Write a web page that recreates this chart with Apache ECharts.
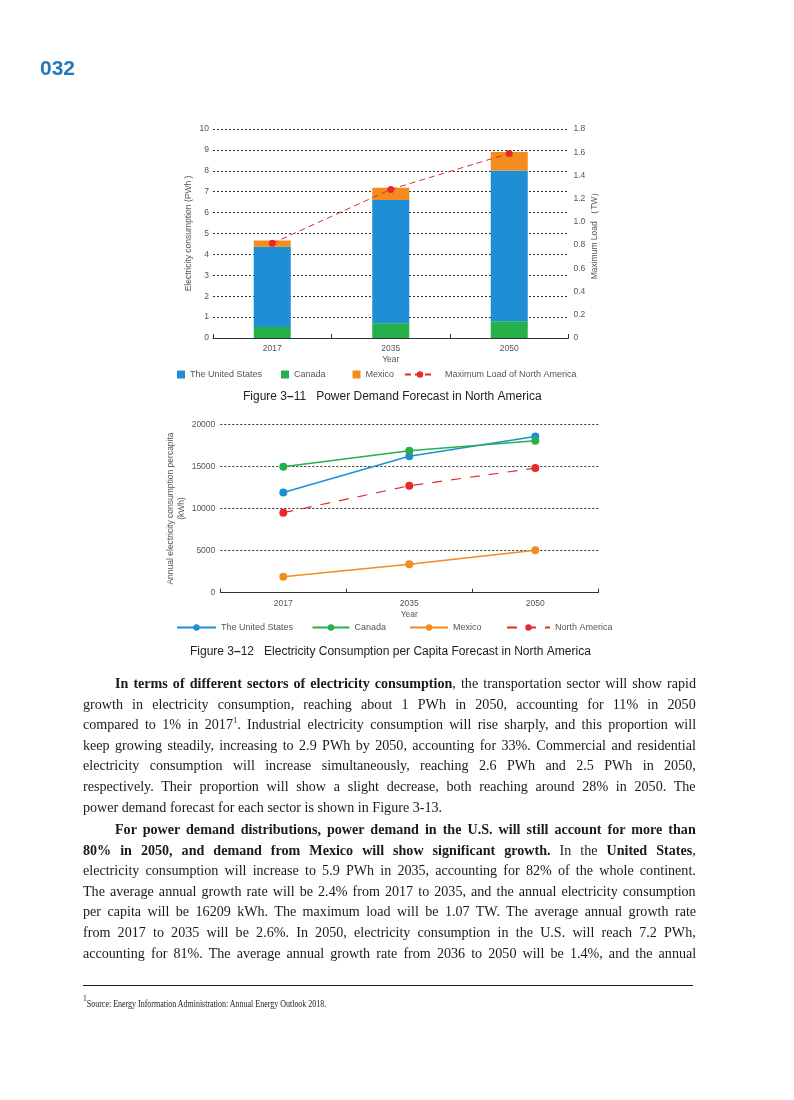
<!DOCTYPE html>
<html><head><meta charset="utf-8">
<script src="https://cdn.jsdelivr.net/npm/echarts@6/dist/echarts.min.js"></script>
<style>
html,body{margin:0;padding:0;background:#fff;}
#page{position:relative;width:794px;height:1100px;overflow:hidden;}
#chart{position:absolute;left:0;top:0;width:794px;height:1100px;}
.ln{position:absolute;display:inline-block;white-space:nowrap;font-family:'Liberation Serif',serif;font-size:15px;line-height:20px;color:#1a1a1a;transform-origin:0 0;}
.ln b{font-weight:bold;}
.ln sup{font-size:9px;line-height:0;vertical-align:6px;}
#pnum{position:absolute;left:40px;top:56px;font-family:'Liberation Sans',Arial,sans-serif;font-weight:bold;font-size:21px;color:#2478be;}
#rule{position:absolute;left:83px;top:985px;width:610px;height:0;border-top:1.3px solid #222;}
</style></head>
<body><div id="page">
<div id="chart"></div>
<div id="pnum">032</div>
<div id="rule"></div>
</div>
<script>
// ---------- data ----------
const years = ['2017', '2035', '2050'];
const usDemand = [3.84, 5.9, 7.22];       // PWh
const canadaDemand = [0.53, 0.70, 0.80];  // PWh
const mexicoDemand = [0.29, 0.59, 0.88];  // PWh
const maxLoadNA = [0.815, 1.28, 1.59];    // TW

const usPerCapita = [11900, 16209, 18550];
const canadaPerCapita = [14950, 16850, 18050];
const mexicoPerCapita = [1900, 3380, 5050];
const naPerCapita = [9500, 12700, 14800];

const leftTicks1 = [0, 10, 1];
const rightTicks1 = [0, 1.8, 0.2];
const ticks2 = [0, 20000, 5000];

const para1 = [
  '<b>In terms of different sectors of electricity consumption</b>, the transportation sector will show rapid',
  'growth in electricity consumption, reaching about 1 PWh in 2050, accounting for 11% in 2050',
  'compared to 1% in 2017<sup>1</sup>. Industrial electricity consumption will rise sharply, and this proportion will',
  'keep growing steadily, increasing to 2.9 PWh by 2050, accounting for 33%. Commercial and residential',
  'electricity consumption will increase simultaneously, reaching 2.6 PWh and 2.5 PWh in 2050,',
  'respectively. Their proportion will show a slight decrease, both reaching around 28% in 2050. The',
  'power demand forecast for each sector is shown in Figure 3-13.'
];
const para2 = [
  '<b>For power demand distributions, power demand in the U.S. will still account for more than</b>',
  '<b>80% in 2050, and demand from Mexico will show significant growth.</b> In the <b>United States</b>,',
  'electricity consumption will increase to 5.9 PWh in 2035, accounting for 82% of the whole continent.',
  'The average annual growth rate will be 2.4% from 2017 to 2035, and the annual electricity consumption',
  'per capita will be 16209 kWh. The maximum load will be 1.07 TW. The average annual growth rate',
  'from 2017 to 2035 will be 2.6%. In 2050, electricity consumption in the U.S. will reach 7.2 PWh,',
  'accounting for 81%. The average annual growth rate from 2036 to 2050 will be 1.4%, and the annual'
];
const footnote = '<sup>1</sup>Source: Energy Information Administration: Annual Energy Outlook 2018.';

// ---------- body text ----------
const page = document.getElementById('page');
const SCALE = 0.94;
function addLine(html, left, top, width, justify) {
  const d = document.createElement('div');
  d.className = 'ln';
  d.innerHTML = html;
  d.style.left = left + 'px';
  d.style.top = top + 'px';
  page.appendChild(d);
  const natural = d.offsetWidth;
  const target = width / SCALE;
  if (justify) {
    const spaces = (d.textContent.match(/ /g) || []).length;
    const extra = target - natural;
    if (extra >= 0) d.style.wordSpacing = (extra / spaces) + 'px';
    else d.style.letterSpacing = (extra / d.textContent.length) + 'px';
  }
  d.style.transform = 'scaleX(' + SCALE + ')';
}
const L = 83, R = 696, IND = 32;
const p1Top = 673, p2Top = 819, lh = 20.6;
para1.forEach((t, i) => {
  const left = i === 0 ? L + IND : L;
  addLine(t, left, p1Top + i * lh, R - left, i !== para1.length - 1);
});
para2.forEach((t, i) => {
  const left = i === 0 ? L + IND : L;
  addLine(t, left, p2Top + i * lh, R - left, true);
});
(function(){
  const d = document.createElement('div');
  d.className = 'ln';
  d.innerHTML = footnote;
  d.style.left = L + 'px'; d.style.top = '994px';
  d.style.fontSize = '9.5px';
  d.style.transform = 'scaleX(0.84)';
  page.appendChild(d);
})();

// ---------- charts ----------
const FONT = 'Liberation Sans';
const GRAY = '#555';
const BLUE = '#1e8fd5', GREEN = '#25b04a', ORANGE = '#f48b1e', RED = '#e62a2a';
const chart = echarts.init(document.getElementById('chart'), null, {renderer: 'canvas'});

const splitStyle = {show: true, lineStyle: {type: [2, 2], color: '#333', width: 1}};
const axisLab = {color: GRAY, fontSize: 8.5, fontFamily: FONT};
const xAxisCommon = {
  type: 'category', data: years,
  axisLine: {show: true, lineStyle: {color: '#333', width: 1}},
  axisTick: {show: true, inside: true, length: 4, lineStyle: {color: '#333'}},
  axisLabel: Object.assign({margin: 6}, axisLab),
  name: 'Year', nameLocation: 'middle', nameGap: 17,
  nameTextStyle: {color: GRAY, fontSize: 8.5, fontFamily: FONT}
};

function legendItem(name, left, top, w, extra) {
  return Object.assign({
    data: [name], left: left, top: top, padding: 0,
    itemWidth: w, itemHeight: 8,
    textStyle: {color: GRAY, fontSize: 9, fontFamily: FONT}
  }, extra || {});
}

const option = {
  animation: false,
  textStyle: {fontFamily: FONT},
  title: [
    {text: 'Figure 3{d|–}11   Power Demand Forecast in North America', left: 238, top: 386,
     textStyle: {fontSize: 12, fontWeight: 'normal', color: '#222', fontFamily: FONT,
       rich: {d: {fontSize: 12, fontWeight: 'bold', color: '#222', fontFamily: FONT}}}},
    {text: 'Figure 3{d|–}12   Electricity Consumption per Capita Forecast in North America', left: 185, top: 641,
     textStyle: {fontSize: 12, fontWeight: 'normal', color: '#222', fontFamily: FONT,
       rich: {d: {fontSize: 12, fontWeight: 'bold', color: '#222', fontFamily: FONT}}}}
  ],
  legend: [
    legendItem('The United States', 177, 370, 8, {icon: 'rect'}),
    legendItem('Canada', 281, 370, 8, {icon: 'rect'}),
    legendItem('Mexico', 352.5, 370, 8, {icon: 'rect'}),
    legendItem('Maximum Load of North America', 404, 370, 30,
      {textStyle: {color: GRAY, fontSize: 9, fontFamily: FONT, padding: [0, 0, 0, 5]}}),
    legendItem('The United States ', 176, 623, 39),
    legendItem('Canada ', 311.5, 623, 37),
    legendItem('Mexico ', 409, 623, 38),
    legendItem('North America', 506, 623, 43)
  ],
  grid: [
    {left: 213, top: 129, width: 355.5, height: 209},
    {left: 220.3, top: 424.3, width: 378, height: 168.4}
  ],
  xAxis: [
    Object.assign({gridIndex: 0}, xAxisCommon),
    Object.assign({gridIndex: 1}, xAxisCommon)
  ],
  yAxis: [
    {gridIndex: 0, type: 'value', min: leftTicks1[0], max: leftTicks1[1], interval: leftTicks1[2],
     axisLine: {show: false}, axisTick: {show: false}, splitLine: splitStyle,
     axisLabel: Object.assign({margin: 4}, axisLab),
     name: 'Electricity consumption (PWh )', nameLocation: 'middle', nameRotate: 90, nameGap: 20,
     nameTextStyle: {color: GRAY, fontSize: 8.5, fontFamily: FONT}},
    {gridIndex: 0, type: 'value', position: 'right', min: rightTicks1[0], max: rightTicks1[1], interval: rightTicks1[2],
     axisLine: {show: false}, axisTick: {show: false}, splitLine: {show: false},
     axisLabel: Object.assign({margin: 5, formatter: v => v === 0 ? '0' : v.toFixed(1)}, axisLab),
     name: 'Maximum Load （TW）', nameLocation: 'middle', nameRotate: 90, nameGap: 22,
     nameTextStyle: {color: GRAY, fontSize: 8.5, fontFamily: FONT}},
    {gridIndex: 1, type: 'value', min: ticks2[0], max: ticks2[1], interval: ticks2[2],
     axisLine: {show: false}, axisTick: {show: false}, splitLine: splitStyle,
     axisLabel: Object.assign({margin: 5, formatter: v => String(v)}, axisLab),
     name: 'Annual electricity consumption percapita\n(kWh)', nameLocation: 'middle', nameRotate: 90, nameGap: 33,
     nameTextStyle: {color: GRAY, fontSize: 8.5, fontFamily: FONT, lineHeight: 11}}
  ],
  series: [
    {name: 'Canada', type: 'bar', stack: 'd', xAxisIndex: 0, yAxisIndex: 0, barWidth: 37,
     itemStyle: {color: GREEN}, data: canadaDemand},
    {name: 'The United States', type: 'bar', stack: 'd', xAxisIndex: 0, yAxisIndex: 0, barWidth: 37,
     itemStyle: {color: BLUE}, data: usDemand},
    {name: 'Mexico', type: 'bar', stack: 'd', xAxisIndex: 0, yAxisIndex: 0, barWidth: 37,
     itemStyle: {color: ORANGE}, data: mexicoDemand},
    {name: 'Maximum Load of North America', type: 'line', xAxisIndex: 0, yAxisIndex: 1,
     symbol: 'circle', symbolSize: 7, itemStyle: {color: RED},
     lineStyle: {color: RED, width: 1, type: [6, 4]}, data: maxLoadNA, z: 5},

    {name: 'The United States ', type: 'line', xAxisIndex: 1, yAxisIndex: 2, symbol: 'circle', symbolSize: 8,
     itemStyle: {color: BLUE}, lineStyle: {color: BLUE, width: 1.5}, data: usPerCapita},
    {name: 'Canada ', type: 'line', xAxisIndex: 1, yAxisIndex: 2, symbol: 'circle', symbolSize: 8,
     itemStyle: {color: GREEN}, lineStyle: {color: GREEN, width: 1.5}, data: canadaPerCapita},
    {name: 'Mexico ', type: 'line', xAxisIndex: 1, yAxisIndex: 2, symbol: 'circle', symbolSize: 8,
     itemStyle: {color: ORANGE}, lineStyle: {color: ORANGE, width: 1.5}, data: mexicoPerCapita},
    {name: 'North America', type: 'line', xAxisIndex: 1, yAxisIndex: 2, symbol: 'circle', symbolSize: 8,
     itemStyle: {color: RED}, lineStyle: {color: RED, width: 1.2, type: [10, 9]}, data: naPerCapita}
  ]
};
chart.setOption(option);
</script>
</body></html>
